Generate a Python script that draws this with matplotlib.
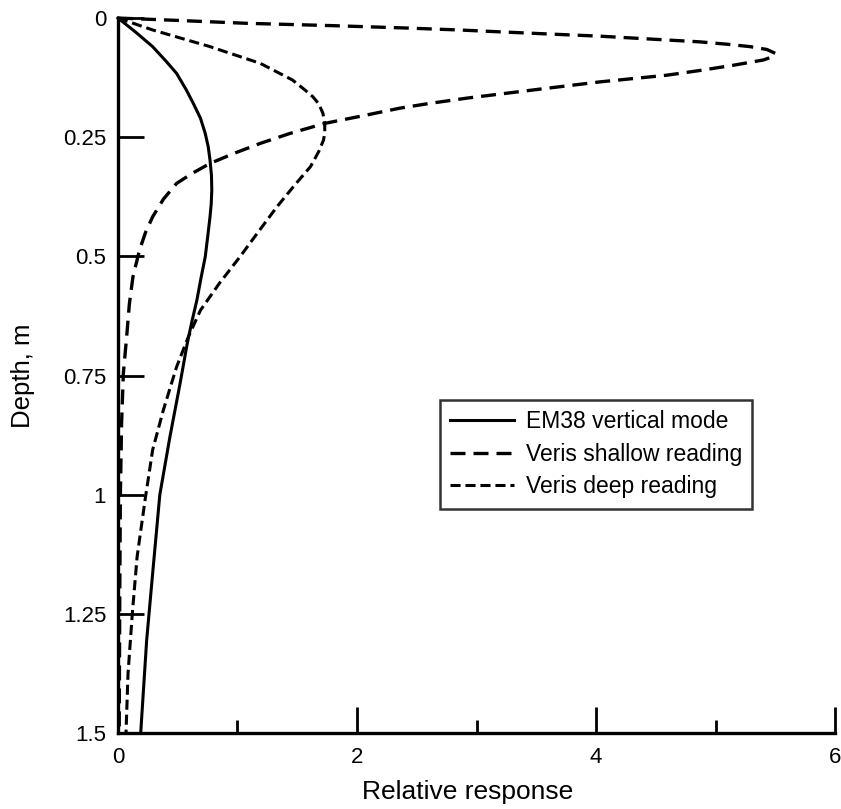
import matplotlib
matplotlib.use("Agg")
import matplotlib.pyplot as plt
from matplotlib.ticker import MultipleLocator

# ---- data ----
em38_depth = [0, 0.03, 0.06, 0.09, 0.116, 0.15, 0.179, 0.21, 0.242, 0.27, 0.298,
              0.33, 0.361, 0.39, 0.417, 0.46, 0.501, 0.545, 0.592, 0.635, 0.682,
              0.766, 0.878, 1.0, 1.165, 1.305, 1.5]
em38_resp = [0, 0.15, 0.29, 0.40, 0.49, 0.57, 0.63, 0.69, 0.73, 0.755, 0.77,
             0.782, 0.785, 0.78, 0.77, 0.75, 0.73, 0.695, 0.66, 0.62, 0.58,
             0.52, 0.435, 0.35, 0.29, 0.24, 0.19]

shallow_depth = [0, 0.005, 0.011, 0.016, 0.021, 0.025, 0.029, 0.034, 0.038, 0.044,
                 0.050, 0.055, 0.060, 0.066, 0.074, 0.081, 0.088, 0.099, 0.110, 0.120,
                 0.134, 0.151, 0.168, 0.179, 0.189, 0.205, 0.221, 0.242, 0.263, 0.284,
                 0.305, 0.326, 0.347, 0.38, 0.417, 0.45, 0.487, 0.543, 0.60, 0.661,
                 0.745, 0.85, 1.0, 1.2, 1.5]
shallow_resp = [0, 0.5, 1.07, 1.8, 2.42, 2.85, 3.2, 3.65, 4.03, 4.45,
                4.87, 5.1, 5.29, 5.43, 5.5, 5.48, 5.4, 5.15, 4.87, 4.59,
                4.03, 3.47, 2.92, 2.61, 2.36, 2.05, 1.73, 1.44, 1.19, 0.97,
                0.77, 0.62, 0.49, 0.38, 0.29, 0.23, 0.18, 0.125, 0.095, 0.075,
                0.045, 0.03, 0.02, 0.015, 0.01]

deep_depth = [0, 0.025, 0.06, 0.095, 0.13, 0.15, 0.165, 0.18, 0.2, 0.221, 0.24,
              0.256, 0.28, 0.312, 0.35, 0.396, 0.45, 0.501, 0.556, 0.613, 0.668,
              0.732, 0.822, 0.906, 1.005, 1.13, 1.249, 1.375, 1.5]
deep_resp = [0, 0.29, 0.77, 1.19, 1.46, 1.56, 1.63, 1.68, 1.715, 1.73, 1.73,
             1.72, 1.68, 1.61, 1.48, 1.33, 1.17, 1.02, 0.85, 0.69, 0.59,
             0.49, 0.38, 0.29, 0.23, 0.16, 0.12, 0.084, 0.067]

series_labels = ["EM38 vertical mode", "Veris shallow reading", "Veris deep reading"]
y_ticks = [0, 0.25, 0.5, 0.75, 1, 1.25, 1.5]
y_ticklabels = ["0", "0.25", "0.5", "0.75", "1", "1.25", "1.5"]
x_ticks = [0, 2, 4, 6]
x_ticklabels = ["0", "2", "4", "6"]

plt.rcParams['font.family'] = ['Liberation Sans', 'DejaVu Sans']

fig = plt.figure(figsize=(8.41, 8.09), dpi=100)
ax = fig.add_axes([0.1403, 0.0939, 0.8526, 0.8838])

ax.plot(em38_resp, em38_depth, color='black', lw=2.2, solid_joinstyle='round',
        label=series_labels[0], clip_on=False)
ax.plot(shallow_resp, shallow_depth, color='black', lw=2.4, dashes=(4.5, 2.4),
        label=series_labels[1], clip_on=False)
ax.plot(deep_resp, deep_depth, color='black', lw=2.2, dashes=(3.3, 1.6),
        label=series_labels[2], clip_on=False)

ax.set_xlim(0, 6)
ax.set_ylim(1.5, 0)

for s in ['top', 'right']:
    ax.spines[s].set_visible(False)
for s in ['left', 'bottom']:
    ax.spines[s].set_linewidth(2.4)

ax.set_yticks(y_ticks)
ax.set_yticklabels(y_ticklabels)
ax.set_xticks(x_ticks)
ax.set_xticklabels(x_ticklabels)
ax.xaxis.set_minor_locator(MultipleLocator(1))

ax.tick_params(axis='y', which='major', direction='in', length=18.5, width=2.0,
               pad=8.5, labelsize=16)
ax.tick_params(axis='x', which='major', direction='in', length=18.5, width=2.0,
               pad=10, labelsize=16)
ax.tick_params(axis='x', which='minor', direction='in', length=9.5, width=2.0)

ax.set_xlabel("Relative response", fontsize=19)
ax.set_ylabel("Depth, m", fontsize=18.5)
ax.xaxis.set_label_coords(0.487, -0.066)
ax.yaxis.set_label_coords(-0.116, 0.5)

leg = ax.legend(loc='upper left', bbox_to_anchor=(0.449, 0.466), borderaxespad=0,
                fontsize=16.5, frameon=True, fancybox=False, edgecolor='black',
                handlelength=2.8, handletextpad=0.5, labelspacing=0.42,
                borderpad=0.45)
leg.get_frame().set_linewidth(1.8)

fig.savefig("out.png", dpi=100, facecolor='white')
